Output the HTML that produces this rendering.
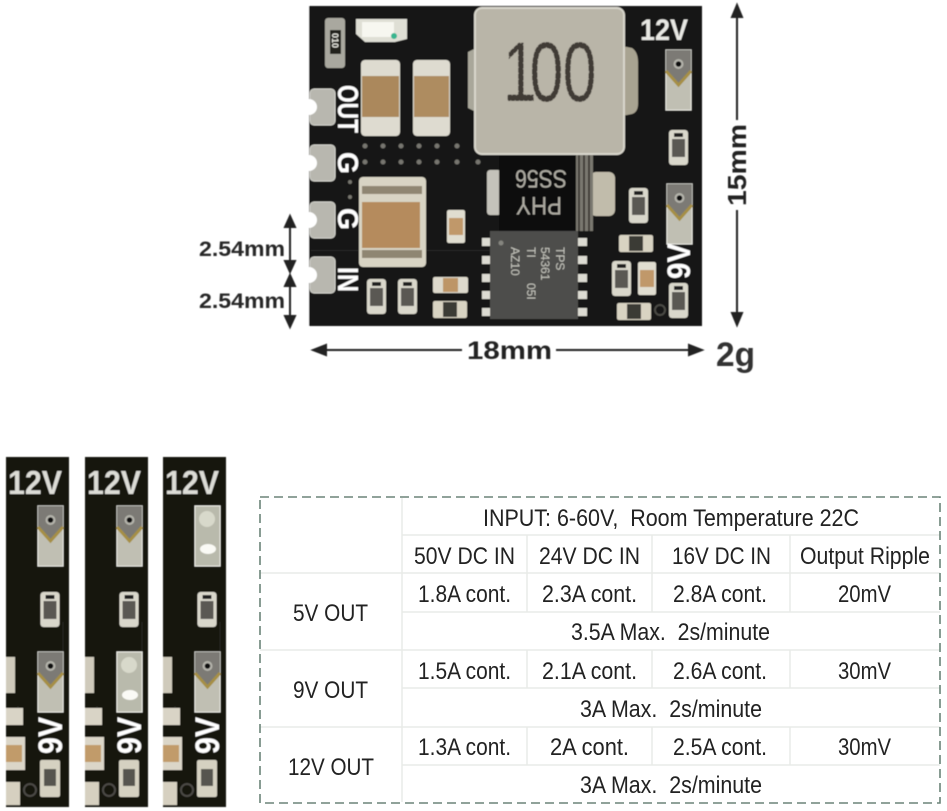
<!DOCTYPE html>
<html><head><meta charset="utf-8"><style>
html,body{margin:0;padding:0;background:#fff;width:947px;height:811px;overflow:hidden}
svg{display:block}
.b{font-family:"Liberation Sans",sans-serif;font-weight:bold}
.t{font-family:"Liberation Sans",sans-serif;font-size:24px;fill:#222}
.l{stroke:#e9ebe8;stroke-width:1.5;fill:none}
.bk{fill:#262626;font-size:21px}
</style></head><body>
<svg width="947" height="811" viewBox="0 0 947 811" xmlns="http://www.w3.org/2000/svg">
<defs>
<filter id="s" x="-2%" y="-2%" width="104%" height="104%"><feGaussianBlur stdDeviation=".45"/></filter>
<g id="pad"><rect x="0" y="0" width="25" height="60" fill="#c0bfb3" stroke="#e6e6e0"/><path d="M0 0H25V21L12.500 35 0 21Z" fill="#7b7a74"/><circle cx="12.500" cy="14" r="5" fill="#b4b3ab"/><circle cx="12.500" cy="14" r="2.800" fill="#111"/><path d="M0 21L12.500 35 25 21" fill="none" stroke="#a68f45" stroke-width="3"/></g>
<g id="solder"><rect width="25" height="60" fill="#b9baac" stroke="#ecece6"/><ellipse cx="12" cy="13" rx="8" ry="8" fill="#d8d9cb"/><ellipse cx="13" cy="43" rx="8" ry="5" fill="#fafaf5"/></g>
<g id="res"><rect width="19" height="35" rx="3" fill="#d9d7cb"/><rect x="3" y="9" width="13" height="18" fill="#5a5852"/><rect x="5" y="3" width="9" height="4" fill="#222"/></g>
<g id="hres"><rect width="34" height="17" rx="2" fill="#d8d3c2"/><rect x="10" y="1" width="14" height="15" fill="#3b3a36"/></g>
<g id="tan"><rect width="18" height="33" rx="2" fill="#e0ddd0"/><rect x="2" y="8" width="14" height="17" fill="#c0986a"/></g>
<g id="strip"><rect width="63" height="350" fill="#141210"/>
<use href="#res" x="34.500" y="135"/>
<path d="M57 165V200M11 250H13" stroke="#2b2a27"/>
<rect x="0" y="200" width="9" height="36" fill="#cfcabb"/><rect x="0" y="251" width="17" height="17" fill="#d9d4c6"/>
<rect x="0" y="280" width="19" height="33" fill="#dbd6c8"/><rect x="0" y="288" width="16" height="17" fill="#c19b6b"/>
<rect x="0" y="325" width="14" height="23" fill="#d6d0c0"/><circle cx="24" cy="333" r="6" fill="none" stroke="#4b4a45" stroke-width="2"/>
<rect x="34" y="303" width="20" height="37" rx="2" fill="#d5d1c1"/><rect x="38" y="312" width="12" height="17" fill="#56544f"/>
</g>
</defs>

<g filter="url(#s)">
<rect x="309" y="6" width="393" height="320" fill="#141312"/>
<rect x="311" y="250" width="180" height="1" fill="#2a2a27"/>
<g fill="#b8b7af" stroke="#d2d2cb">
<rect x="310" y="89" width="25" height="36" rx="4"/><rect x="310" y="145" width="25" height="36" rx="4"/>
<rect x="310" y="202" width="25" height="36" rx="4"/><rect x="310" y="257" width="25" height="36" rx="4"/>
</g>
<g fill="#fff"><circle cx="309" cy="107" r="8"/><circle cx="309" cy="163" r="8"/><circle cx="309" cy="220" r="8"/><circle cx="309" cy="275" r="8"/></g>
<rect x="300" y="0" width="9" height="330" fill="#fff"/>
<rect x="325" y="18" width="20" height="50" rx="3" fill="#a9a89f"/><rect x="330" y="30" width="11" height="24" fill="#22221f"/>
<text transform="translate(332,33) rotate(90)" class="b" font-size="9" fill="#e8e8e0">010</text>
<path d="M356 19H407V39L395 42H365L356 34Z" fill="#dfdfd5"/><rect x="362" y="22" width="32" height="15" fill="#f7f7f0"/><circle cx="394" cy="36" r="3" fill="#37b58f"/>
<rect x="361" y="60" width="39" height="76" rx="4" fill="#dedbd0"/><rect x="362" y="76" width="37" height="41" fill="#ab885c"/>
<rect x="413" y="60" width="37" height="76" rx="4" fill="#dedbd0"/><rect x="414" y="76" width="35" height="41" fill="#ae8c60"/>
<g class="b" fill="#fff" font-size="29">
<text transform="translate(338,85) rotate(90)" textLength="48" lengthAdjust="spacingAndGlyphs">OUT</text>
<text transform="translate(338,152) rotate(90)" textLength="22" lengthAdjust="spacingAndGlyphs">G</text>
<text transform="translate(338,208) rotate(90)" textLength="22" lengthAdjust="spacingAndGlyphs">G</text>
<text transform="translate(338,267) rotate(90)" textLength="25" lengthAdjust="spacingAndGlyphs">IN</text>
</g>
<g fill="#77766f"><circle cx="365" cy="146" r="2.500"/><circle cx="383" cy="146" r="2.500"/><circle cx="401" cy="146" r="2.500"/><circle cx="419" cy="146" r="2.500"/><circle cx="437" cy="146" r="2.500"/><circle cx="457" cy="146" r="2.500"/>
<circle cx="365" cy="162" r="2.500"/><circle cx="383" cy="162" r="2.500"/><circle cx="401" cy="162" r="2.500"/><circle cx="419" cy="162" r="2.500"/><circle cx="437" cy="162" r="2.500"/><circle cx="457" cy="162" r="2.500"/><circle cx="478" cy="162" r="2.500"/><circle cx="350" cy="182" r="2"/><circle cx="350" cy="197" r="2"/></g>
<path d="M468 52L476 48V112L468 108Z" fill="#a9a79a"/>
<path d="M622 46L632 48Q638 52 638 62V104Q638 112 632 114L622 116Z" fill="#a8a391"/>
<rect x="475" y="8" width="149" height="146" rx="7" fill="#b9b5a8" stroke="#d8d6cc" stroke-width="2"/>
<text transform="translate(503,101) scale(.72,1)" x="0 37 83" y="0" font-family="Liberation Sans,sans-serif" font-size="84" fill="#403a34" stroke="#b9b5a8" stroke-width="1.500" stroke-dasharray="1 5">100</text>
<rect x="487" y="170" width="14" height="45" rx="3" fill="#c4c2ba"/>
<rect x="590" y="172" width="25" height="44" rx="6" fill="#c1bcab"/>
<rect x="575" y="155" width="18" height="76" fill="#7a7870"/>
<path d="M579 155V231M584 155V231M589 155V231" stroke="#2a2926" stroke-width="1.500"/>
<rect x="499" y="155" width="77" height="76" fill="#101010"/>
<g font-family="Liberation Sans,sans-serif" font-size="25" fill="#aeaca3">
<text transform="translate(567,170) rotate(180)" textLength="52" lengthAdjust="spacingAndGlyphs">SS56</text>
<text transform="translate(562,197) rotate(180)" textLength="46" lengthAdjust="spacingAndGlyphs">PHY</text>
</g>
<rect x="359" y="177" width="67" height="90" rx="4" fill="#d8d4c4"/>
<rect x="362" y="186" width="60" height="8" fill="#8f8672"/><rect x="362" y="250" width="60" height="8" fill="#8f8672"/>
<rect x="362" y="202" width="58" height="46" fill="#b58b5d"/>
<g fill="#dcdbd2"><rect x="482" y="238" width="10" height="8"/><rect x="482" y="256" width="10" height="8"/><rect x="482" y="274" width="10" height="8"/><rect x="482" y="291" width="10" height="8"/><rect x="482" y="308" width="10" height="8"/>
<rect x="576" y="238" width="11" height="8"/><rect x="576" y="256" width="11" height="8"/><rect x="576" y="274" width="11" height="8"/><rect x="576" y="291" width="11" height="8"/><rect x="576" y="308" width="11" height="8"/></g>
<rect x="490" y="231" width="88" height="88" fill="#4e4e4b"/><circle cx="501" cy="243" r="2.500" fill="#85857f"/>
<g font-family="Liberation Sans,sans-serif" font-size="12" fill="#c5c5bd">
<text transform="translate(556,247) rotate(90)">TPS</text>
<text transform="translate(541,247) rotate(90)">54361</text>
<text transform="translate(527,247) rotate(90)">TI</text>
<text transform="translate(511,247) rotate(90)">AZ10</text>
<text transform="translate(527,283) rotate(90)">05I</text>
</g>
<use href="#tan" x="447" y="210"/>
<use href="#res" x="367" y="279"/><use href="#res" x="398" y="279"/>
<rect x="433" y="277" width="35" height="16" rx="2" fill="#ddd9cc"/><rect x="443" y="278" width="15" height="14" fill="#bd9566"/>
<use href="#hres" x="433" y="301"/>
<use href="#res" x="629" y="188"/><use href="#hres" x="619" y="235"/><use href="#res" x="612" y="261"/><use href="#tan" x="638" y="262"/><use href="#hres" x="617" y="303"/>
<use href="#res" x="669" y="130"/><use href="#res" x="669" y="283"/>
<use href="#pad" x="666" y="50"/><use href="#pad" x="667" y="184"/>
<circle cx="660" cy="310" r="5" fill="none" stroke="#4a4a45" stroke-width="2"/>
<text x="640" y="40" class="b" font-size="30" fill="#e8e8e4" textLength="48" lengthAdjust="spacingAndGlyphs">12V</text>
<text transform="translate(690,279) rotate(-90)" class="b" font-size="32" fill="#fff" textLength="36" lengthAdjust="spacingAndGlyphs">9V</text>

<g stroke="#222" stroke-width="2" fill="#222">
<path d="M737 14V120M737 210V316" fill="none"/><path d="M737 5L732 17H742Z"/><path d="M737 325L732 313H742Z"/>
<path d="M322 350H462M556 350H692" fill="none"/><path d="M313 350L326 345V355Z"/><path d="M702 350L689 345V355Z"/>
<path d="M290 225V264M290 284V318" fill="none"/><path d="M290 216L285 227H295Z"/><path d="M290 272L285 261H295Z"/><path d="M290 275L285 286H295Z"/><path d="M290 327L285 316H295Z"/>
</g>
<text transform="translate(746,206) rotate(-90)" class="b" font-size="26" fill="#222" textLength="82" lengthAdjust="spacingAndGlyphs">15mm</text>
<text x="467" y="359" class="b" font-size="25" fill="#222" textLength="85" lengthAdjust="spacingAndGlyphs">18mm</text>
<text x="716" y="366" class="b" font-size="34" fill="#333" textLength="39" lengthAdjust="spacingAndGlyphs">2g</text>
<text x="199" y="256" class="b bk" textLength="86" lengthAdjust="spacingAndGlyphs">2.54mm</text>
<text x="199" y="308" class="b bk" textLength="86" lengthAdjust="spacingAndGlyphs">2.54mm</text>

<use href="#strip" x="6" y="457"/><use href="#strip" x="85" y="457"/><use href="#strip" x="163" y="457"/>
<use href="#pad" x="38" y="506"/><use href="#pad" x="38" y="652"/>
<use href="#pad" x="117" y="506"/><use href="#solder" x="117" y="652"/>
<use href="#solder" x="195" y="506"/><use href="#pad" x="195" y="652"/>
<g class="b" font-size="33" fill="#dcdcd6">
<text x="8" y="494" textLength="54" lengthAdjust="spacingAndGlyphs">12V</text>
<text x="87" y="494" textLength="54" lengthAdjust="spacingAndGlyphs">12V</text>
<text x="165" y="494" textLength="54" lengthAdjust="spacingAndGlyphs">12V</text>
</g>
<g class="b" font-size="34" fill="#fff">
<text transform="translate(62,754) rotate(-90)" textLength="37" lengthAdjust="spacingAndGlyphs">9V</text>
<text transform="translate(141,754) rotate(-90)" textLength="37" lengthAdjust="spacingAndGlyphs">9V</text>
<text transform="translate(219,754) rotate(-90)" textLength="37" lengthAdjust="spacingAndGlyphs">9V</text>
</g>
</g>

<path class="l" d="M402 498V802M260 573H940M402 535H940M402 612H940M260 650H940M402 688H940M260 727H940M402 765H940M527 535V612M652 535V612M790 535V612M527 650V688M652 650V688M790 650V688M527 727V765M652 727V765M790 727V765"/>
<rect x="260" y="497" width="680" height="306" fill="none" stroke="#6b8478" stroke-width="1.600" stroke-dasharray="9 5"/>
<g class="t">
<text x="483" y="526" textLength="376" lengthAdjust="spacingAndGlyphs" xml:space="preserve">INPUT: 6-60V,  Room Temperature 22C</text>
<text x="414" y="564" textLength="101" lengthAdjust="spacingAndGlyphs">50V DC IN</text>
<text x="539" y="564" textLength="101" lengthAdjust="spacingAndGlyphs">24V DC IN</text>
<text x="672" y="564" textLength="99" lengthAdjust="spacingAndGlyphs">16V DC IN</text>
<text x="800" y="564" textLength="130" lengthAdjust="spacingAndGlyphs">Output Ripple</text>
<text x="293" y="621" textLength="75" lengthAdjust="spacingAndGlyphs">5V OUT</text>
<text x="418" y="602" textLength="93" lengthAdjust="spacingAndGlyphs">1.8A cont.</text>
<text x="542" y="602" textLength="95" lengthAdjust="spacingAndGlyphs">2.3A cont.</text>
<text x="673" y="602" textLength="94" lengthAdjust="spacingAndGlyphs">2.8A cont.</text>
<text x="838" y="602" textLength="53" lengthAdjust="spacingAndGlyphs">20mV</text>
<text x="571" y="640" textLength="199" lengthAdjust="spacingAndGlyphs" xml:space="preserve">3.5A Max.  2s/minute</text>
<text x="293" y="698" textLength="75" lengthAdjust="spacingAndGlyphs">9V OUT</text>
<text x="418" y="679" textLength="93" lengthAdjust="spacingAndGlyphs">1.5A cont.</text>
<text x="542" y="679" textLength="95" lengthAdjust="spacingAndGlyphs">2.1A cont.</text>
<text x="673" y="679" textLength="94" lengthAdjust="spacingAndGlyphs">2.6A cont.</text>
<text x="838" y="679" textLength="53" lengthAdjust="spacingAndGlyphs">30mV</text>
<text x="580" y="717" textLength="182" lengthAdjust="spacingAndGlyphs" xml:space="preserve">3A Max.  2s/minute</text>
<text x="288" y="775" textLength="86" lengthAdjust="spacingAndGlyphs">12V OUT</text>
<text x="418" y="755" textLength="93" lengthAdjust="spacingAndGlyphs">1.3A cont.</text>
<text x="550" y="755" textLength="79" lengthAdjust="spacingAndGlyphs">2A cont.</text>
<text x="673" y="755" textLength="94" lengthAdjust="spacingAndGlyphs">2.5A cont.</text>
<text x="838" y="755" textLength="53" lengthAdjust="spacingAndGlyphs">30mV</text>
<text x="580" y="793" textLength="182" lengthAdjust="spacingAndGlyphs" xml:space="preserve">3A Max.  2s/minute</text>
</g>
</svg>
</body></html>
